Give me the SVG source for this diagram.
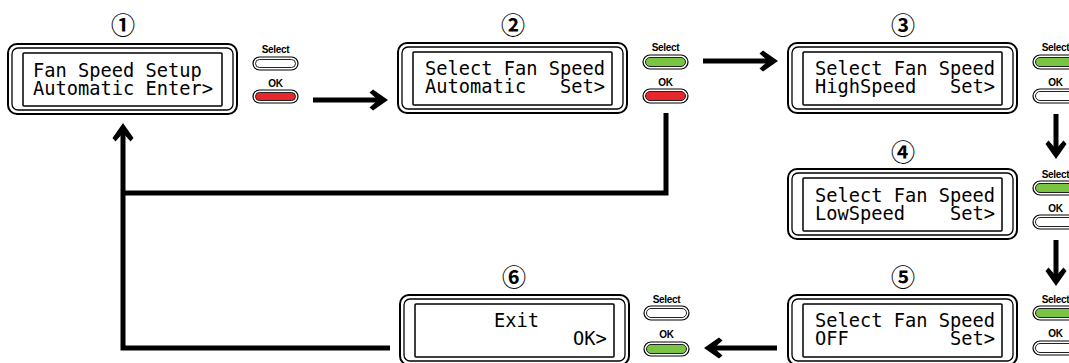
<svg xmlns="http://www.w3.org/2000/svg" width="1069" height="363" viewBox="0 0 1069 363">
<style>
.outer{fill:#fff;stroke:#000;stroke-width:2}
.inner{fill:none;stroke:#000;stroke-width:1.3}
.lcd{fill:#fff;stroke:#000;stroke-width:1.5}
.lcdt{font-family:"DejaVu Sans Mono",monospace;font-size:18.7px;fill:#000}
.num{font-family:"Noto Sans CJK JP","Noto Sans CJK SC",sans-serif;font-size:24px;font-weight:bold;fill:#000;text-anchor:middle}
.blab{font-family:"Liberation Sans",Arial,sans-serif;font-size:10px;font-weight:bold;fill:#000;text-anchor:middle;letter-spacing:-0.3px}
.po{fill:#fff;stroke:#000;stroke-width:1.2}
.pw{fill:#fff;stroke:#222;stroke-width:1}
.pg{fill:#79c443;stroke:#222;stroke-width:1}
.pr{fill:#e8262b;stroke:#222;stroke-width:1}
.conn{fill:none;stroke:#000;stroke-width:5}
</style>
<defs>
<marker id="ah" markerUnits="userSpaceOnUse" orient="auto" markerWidth="30" markerHeight="30" refX="0" refY="0" viewBox="-15 -15 30 30" overflow="visible">
<path d="M7,0 L-8,-10.5 L-11.5,-7.5 L-3,0 L-11.5,7.5 L-8,10.5 Z" fill="#000"/>
</marker>
</defs>

<g id="connectors">
<path class="conn" d="M313,100 H381" marker-end="url(#ah)"/>
<path class="conn" d="M703,61 H771" marker-end="url(#ah)"/>
<path class="conn" d="M1056,114 V152" marker-end="url(#ah)"/>
<path class="conn" d="M1056,240 V279" marker-end="url(#ah)"/>
<path class="conn" d="M777,348 H711" marker-end="url(#ah)"/>
<path class="conn" d="M666,113 V193 H123"/>
<path class="conn" d="M390,348 H123 V130" marker-end="url(#ah)"/>
</g>

<g id="node1">
<text class="num" x="123" y="34">①</text>
<rect class="outer" x="8" y="44" width="229" height="70" rx="9"/>
<rect class="inner" x="12" y="48" width="221" height="62" rx="6"/>
<rect class="lcd" x="23" y="53" width="199" height="53" rx="1"/>
<text class="lcdt" x="33" y="77">Fan Speed Setup</text>
<text class="lcdt" x="33" y="95">Automatic Enter&gt;</text>
<text class="blab" x="275.5" y="53">Select</text>
<rect class="po" x="253" y="57" width="45" height="13" rx="6.5"/>
<rect class="pw" x="255.5" y="59.5" width="40" height="8" rx="4"/>
<text class="blab" x="275.5" y="87">OK</text>
<rect class="po" x="253" y="90" width="45" height="13" rx="6.5"/>
<rect class="pr" x="255.5" y="92.5" width="40" height="8" rx="4"/>
</g>

<g id="node2">
<text class="num" x="513" y="34">②</text>
<rect class="outer" x="398" y="43" width="229" height="70" rx="9"/>
<rect class="inner" x="402" y="47" width="221" height="62" rx="6"/>
<rect class="lcd" x="413" y="52" width="199" height="53" rx="1"/>
<text class="lcdt" x="425" y="75">Select Fan Speed</text>
<text class="lcdt" y="93"><tspan x="425">Automatic</tspan><tspan x="560">Set&gt;</tspan></text>
<text class="blab" x="665.5" y="51">Select</text>
<rect class="po" x="643" y="55" width="45" height="14" rx="7"/>
<rect class="pg" x="645.5" y="57.5" width="40" height="9" rx="4.5"/>
<text class="blab" x="665.5" y="86">OK</text>
<rect class="po" x="643" y="89" width="45" height="14" rx="7"/>
<rect class="pr" x="645.5" y="91.5" width="40" height="9" rx="4.5"/>
</g>

<g id="node3">
<text class="num" x="903" y="34">③</text>
<rect class="outer" x="788" y="43" width="229" height="70" rx="9"/>
<rect class="inner" x="792" y="47" width="221" height="62" rx="6"/>
<rect class="lcd" x="803" y="52" width="199" height="53" rx="1"/>
<text class="lcdt" x="815" y="75">Select Fan Speed</text>
<text class="lcdt" y="93"><tspan x="815">HighSpeed</tspan><tspan x="950">Set&gt;</tspan></text>
<text class="blab" x="1055.5" y="51">Select</text>
<rect class="po" x="1033" y="55" width="45" height="14" rx="7"/>
<rect class="pg" x="1035.5" y="57.5" width="40" height="9" rx="4.5"/>
<text class="blab" x="1055.5" y="86">OK</text>
<rect class="po" x="1033" y="89" width="45" height="14" rx="7"/>
<rect class="pw" x="1035.5" y="91.5" width="40" height="9" rx="4.5"/>
</g>

<g id="node4">
<text class="num" x="903" y="161">④</text>
<rect class="outer" x="788" y="169" width="229" height="70" rx="9"/>
<rect class="inner" x="792" y="173" width="221" height="62" rx="6"/>
<rect class="lcd" x="803" y="178" width="199" height="53" rx="1"/>
<text class="lcdt" x="815" y="202">Select Fan Speed</text>
<text class="lcdt" y="220"><tspan x="815">LowSpeed</tspan><tspan x="950">Set&gt;</tspan></text>
<text class="blab" x="1055.5" y="178">Select</text>
<rect class="po" x="1033" y="181" width="45" height="14" rx="7"/>
<rect class="pg" x="1035.5" y="183.5" width="40" height="9" rx="4.5"/>
<text class="blab" x="1055.5" y="212">OK</text>
<rect class="po" x="1033" y="215" width="45" height="14" rx="7"/>
<rect class="pw" x="1035.5" y="217.5" width="40" height="9" rx="4.5"/>
</g>

<g id="node5">
<text class="num" x="903" y="286">⑤</text>
<rect class="outer" x="788" y="295" width="229" height="70" rx="9"/>
<rect class="inner" x="792" y="299" width="221" height="62" rx="6"/>
<rect class="lcd" x="803" y="304" width="199" height="53" rx="1"/>
<text class="lcdt" x="815" y="327">Select Fan Speed</text>
<text class="lcdt" y="345"><tspan x="815">OFF</tspan><tspan x="950">Set&gt;</tspan></text>
<text class="blab" x="1055.5" y="303">Select</text>
<rect class="po" x="1033" y="306" width="45" height="14" rx="7"/>
<rect class="pg" x="1035.5" y="308.5" width="40" height="9" rx="4.5"/>
<text class="blab" x="1055.5" y="337">OK</text>
<rect class="po" x="1033" y="341" width="45" height="14" rx="7"/>
<rect class="pw" x="1035.5" y="343.5" width="40" height="9" rx="4.5"/>
</g>

<g id="node6">
<text class="num" x="514" y="286">⑥</text>
<rect class="outer" x="400" y="295" width="229" height="70" rx="9"/>
<rect class="inner" x="404" y="299" width="221" height="62" rx="6"/>
<rect class="lcd" x="415" y="304" width="199" height="53" rx="1"/>
<text class="lcdt" x="494" y="327">Exit</text>
<text class="lcdt" x="573" y="345">OK&gt;</text>
<text class="blab" x="666.5" y="303">Select</text>
<rect class="po" x="644" y="306" width="45" height="14" rx="7"/>
<rect class="pw" x="646.5" y="308.5" width="40" height="9" rx="4.5"/>
<text class="blab" x="666.5" y="338">OK</text>
<rect class="po" x="644" y="342" width="45" height="14" rx="7"/>
<rect class="pg" x="646.5" y="344.5" width="40" height="9" rx="4.5"/>
</g>
</svg>
